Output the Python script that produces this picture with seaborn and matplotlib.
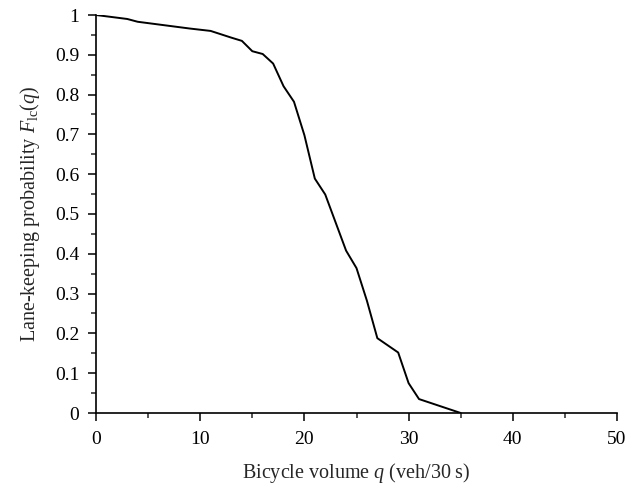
import matplotlib
matplotlib.use("Agg")
import matplotlib.pyplot as plt
from matplotlib.ticker import MultipleLocator
import seaborn as sns
import pandas as pd

q_values = [0, 3, 4, 9, 11, 13, 14, 15, 16, 17, 18, 19, 20, 21, 22, 24, 25, 26, 27, 29, 30, 31, 35]
prob_values = [1.0, 0.990, 0.983, 0.966, 0.960, 0.943, 0.935, 0.909, 0.902, 0.878, 0.821, 0.782,
               0.698, 0.589, 0.549, 0.408, 0.364, 0.282, 0.188, 0.152, 0.075, 0.035, 0.0]
x_ticks = [0, 10, 20, 30, 40, 50]
y_ticks = [0, 0.1, 0.2, 0.3, 0.4, 0.5, 0.6, 0.7, 0.8, 0.9, 1]
y_tick_labels = ["0", "0.1", "0.2", "0.3", "0.4", "0.5", "0.6", "0.7", "0.8", "0.9", "1"]

sns.set_theme(style="ticks")
plt.rcParams["font.family"] = ["Liberation Serif", "DejaVu Serif"]
plt.rcParams["mathtext.fontset"] = "custom"
plt.rcParams["mathtext.rm"] = "Liberation Serif"
plt.rcParams["mathtext.it"] = "Liberation Serif:italic"

df = pd.DataFrame({"q": q_values, "p": prob_values})

fig = plt.figure(figsize=(6.41, 4.90), dpi=100)
ax = fig.add_axes([96 / 641, 77 / 490, 521 / 641, 398 / 490])
sns.lineplot(data=df, x="q", y="p", ax=ax, color="black", linewidth=1.4)

ax.set_xlim(0, 50)
ax.set_ylim(0, 1)
ax.set_xticks(x_ticks)
ax.set_yticks(y_ticks)
ax.set_yticklabels(y_tick_labels)
ax.xaxis.set_minor_locator(MultipleLocator(5))
ax.yaxis.set_minor_locator(MultipleLocator(0.05))
ax.tick_params(axis="both", which="major", direction="out", length=6, width=1.1,
               labelsize=14, colors="black")
ax.tick_params(axis="x", which="major", pad=7)
ax.tick_params(axis="y", which="major", pad=6)
ax.tick_params(axis="both", which="minor", direction="out", length=3.5, width=1.1)
for side in ["top", "right"]:
    ax.spines[side].set_visible(False)
for side in ["left", "bottom"]:
    ax.spines[side].set_linewidth(1.2)
    ax.spines[side].set_color("black")

ax.set_xlabel("Bicycle volume $q$ (veh/30\u2009s)", fontsize=14.5, labelpad=9)
ax.set_ylabel("Lane-keeping probability $F_{\\mathrm{lc}}(q)$", fontsize=14.5, labelpad=9)

fig.savefig("out.png", dpi=100)
